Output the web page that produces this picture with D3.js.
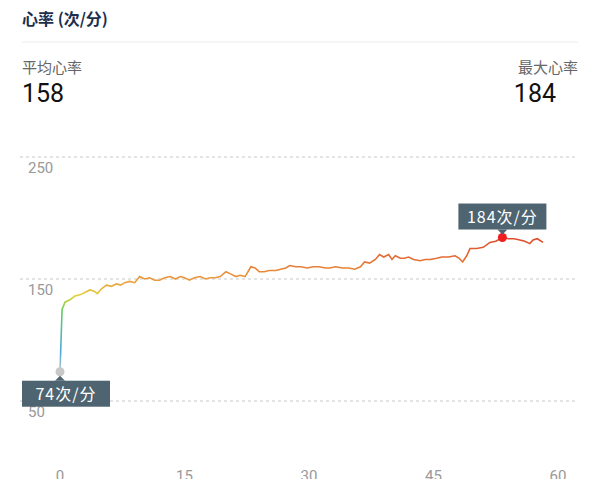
<!DOCTYPE html>
<html><head><meta charset="utf-8">
<script src="https://cdn.jsdelivr.net/npm/d3@7"></script>
<style>body{margin:0;background:#fff;font-family:"Noto Sans CJK SC","Noto Sans",sans-serif;}</style>
</head><body><div id="chart"></div>
<script>
"use strict";

// minutes and heart rate (bpm)
const minutes = [0,0.25,0.6,1.2,1.8,2.4,3,3.6,4.1,4.5,5,5.6,6.2,6.8,7.3,7.8,8.4,9,9.6,10.2,10.8,11.4,12,12.6,13.3,13.9,14.5,15,15.6,16.2,16.9,17.5,18.1,18.7,19.3,20,20.6,21.2,21.7,22.3,23,23.5,24,24.6,25.2,26,26.6,27.2,27.7,28.4,29,29.8,30.5,31.2,32,32.5,33.2,34,34.8,35.5,36.2,36.7,37.3,38,38.5,39,39.6,40,40.4,41,41.5,42,42.6,43.4,44,44.6,45.4,46,46.8,47.6,48.1,48.5,49,49.4,50.2,51,51.8,52.5,53.3,54,54.7,55.4,56,56.6,57,57.5,58.2];
const bpm     = [74,125,131,133,136,137,139,141,140,138,142,145,144,146,145,147,148,147,152,150,151,149,149,151,152,150,152,151,149,151,152,150,151,151,152,156,154,152,153,152,160,159,156,156,157,157,158,159,161,160,160,159,160,160,159,159,160,159,159,158,160,164,163,166,170,168,170,166,169,167,167,168,166,165,166,166,167,168,168,169,167,164,169,175,175,176,180,181,184,183,183,182,181,179,182,183,180];

const yTicks = [250, 150, 50];
const xTicks = [0, 15, 30, 45, 60];
const avgHr = 158, maxHr = 184, minHr = 74;

const W = 600, H = 479;
const svg = d3.select("#chart").append("svg").attr("width", W).attr("height", H);

// header
svg.append("text").attr("x", 22).attr("y", 25).attr("font-size", 16).attr("font-weight", "bold")
   .attr("fill", "#1d2e4d").text("心率 (次/分)");
svg.append("line").attr("x1", 22).attr("x2", 578).attr("y1", 42).attr("y2", 42)
   .attr("stroke", "#ececec");
svg.append("text").attr("x", 22).attr("y", 73).attr("font-size", 15).attr("fill", "#666").text("平均心率");
svg.append("text").attr("x", 22).attr("y", 102).attr("font-size", 25).attr("fill", "#111")
   .attr("font-family", "Roboto, sans-serif").text(avgHr);
svg.append("text").attr("x", 578).attr("y", 73).attr("font-size", 15).attr("fill", "#666")
   .attr("text-anchor", "end").text("最大心率");
svg.append("text").attr("x", 556).attr("y", 102).attr("font-size", 25).attr("fill", "#111")
   .attr("text-anchor", "end").attr("font-family", "Roboto, sans-serif").text(maxHr);

const x = d3.scaleLinear().domain([0, 60]).range([60, 558]);
const y = d3.scaleLinear().domain([50, 250]).range([401, 157]);

// grid
yTicks.forEach(t => {
  svg.append("line").attr("x1", 20).attr("x2", 575).attr("y1", y(t)).attr("y2", y(t))
     .attr("stroke", "#c8c8c8").attr("stroke-dasharray", "3,3");
  svg.append("text").attr("x", 28).attr("y", y(t) + 16).attr("font-size", 15).attr("fill", "#999")
     .attr("font-family", "Roboto, sans-serif").text(t);
});
xTicks.forEach(t => {
  svg.append("text").attr("x", x(t)).attr("y", 481).attr("text-anchor", "middle")
     .attr("font-size", 15).attr("fill", "#999").attr("font-family", "Roboto, sans-serif").text(t);
});

// colour gradient by heart rate
const grad = svg.append("defs").append("linearGradient").attr("id", "hrGrad")
  .attr("gradientUnits", "userSpaceOnUse").attr("x1", 0).attr("x2", 0)
  .attr("y1", y(74)).attr("y2", y(185));
[[0, "#c8c8c8"], [0.15, "#4aa8e0"], [0.45, "#5fcf60"], [0.56, "#e2d23a"], [0.66, "#eba03c"], [0.85, "#e46a34"], [1, "#dd4a2c"]]
  .forEach(([o, c]) => grad.append("stop").attr("offset", o).attr("stop-color", c));

const pts = minutes.map((m, i) => [m, bpm[i]]);
svg.append("path").datum(pts)
  .attr("d", d3.line().x(d => x(d[0])).y(d => y(d[1])))
  .attr("fill", "none").attr("stroke", "url(#hrGrad)").attr("stroke-width", 1.6);

// markers + tooltips
function tip(cx, cy, label, above) {
  const w = 88, h = 26;
  const bx = above ? cx - w / 2 : 22, by = above ? cy - h - 8 : cy + 9;
  const g = svg.append("g");
  g.append("rect").attr("x", bx).attr("y", by).attr("width", w).attr("height", h).attr("fill", "#4e6470");
  const tx = cx;
  g.append("path").attr("fill", "#4e6470")
   .attr("d", above ? `M${tx-5},${by+h}L${tx},${by+h+5}L${tx+5},${by+h}Z` : `M${tx-5},${by}L${tx},${by-5}L${tx+5},${by}Z`);
  g.append("text").attr("x", bx + w / 2).attr("y", by + 19).attr("text-anchor", "middle")
   .attr("font-size", 16).attr("fill", "#fff").attr("letter-spacing", 1).text(label);
}
const iMax = bpm.indexOf(maxHr);
svg.append("circle").attr("cx", x(0)).attr("cy", y(minHr)).attr("r", 4.5).attr("fill", "#c8c8c8");
tip(x(0), y(minHr), minHr + "次/分", false);
svg.append("circle").attr("cx", x(minutes[iMax])).attr("cy", y(maxHr)).attr("r", 4.5).attr("fill", "#f01e1e");
tip(x(minutes[iMax]), y(maxHr), maxHr + "次/分", true);
</script></body></html>
